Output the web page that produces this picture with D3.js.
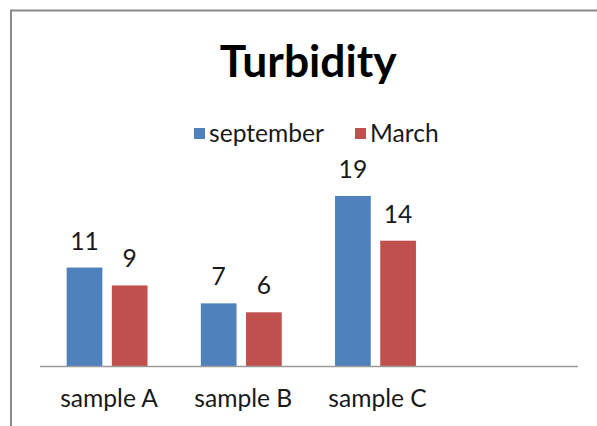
<!DOCTYPE html>
<html>
<head>
<meta charset="utf-8">
<script src="https://cdn.jsdelivr.net/npm/d3@7"></script>
<style>
  html, body { margin: 0; padding: 0; background: #fff; }
  svg { display: block; }
  text { font-family: Lato, "Open Sans", sans-serif; }
</style>
</head>
<body>
<svg id="chart" width="597" height="426"></svg>
<script>
// ---- data ----
const title = "Turbidity";
const categories = ["sample A", "sample B", "sample C"];
const seriesNames = ["september", "March"];
const september = [11, 7, 19];
const march = [9, 6, 14];
const seriesValues = [september, march];
const seriesColors = ["#4F81BD", "#C0504D"];
const yMax = 20;

// ---- layout ----
const W = 597, H = 426;
const plot = { left: 40, right: 578, bottom: 366, top: 187 };
const slot = 134.2;

const svg = d3.select("#chart");
svg.append("rect").attr("width", W).attr("height", H).attr("fill", "#fff");

// outer frame (extends beyond view on right / bottom)
svg.append("rect")
  .attr("x", 11).attr("y", 10.5)
  .attr("width", 800).attr("height", 800)
  .attr("fill", "none").attr("stroke", "#8a8a8a").attr("stroke-width", 2);

const x0 = d3.scaleBand().domain(categories)
  .range([plot.left, plot.left + slot * categories.length])
  .paddingInner(0).paddingOuter(0);
const x1 = d3.scaleBand().domain(seriesNames)
  .range([0, x0.bandwidth()])
  .paddingInner(0.21).paddingOuter(0.59);
const y = d3.scaleLinear().domain([0, yMax]).range([plot.bottom, plot.top]);

// helper: fit font-size so text reaches target width
function fit(sel, target) {
  const w = sel.node().getComputedTextLength();
  const fs = parseFloat(sel.attr("font-size"));
  sel.attr("font-size", fs * target / w);
  return fs * target / w;
}

// title
const t = svg.append("text")
  .attr("x", 308.3).attr("y", 77)
  .attr("text-anchor", "middle")
  .attr("font-weight", 700)
  .attr("font-size", 44)
  .attr("fill", "#000")
  .text(title);
fit(t, 177);

// bars
const data = [];
categories.forEach((c, i) => seriesNames.forEach((s, j) => data.push({ c, s, v: seriesValues[j][i], j })));

svg.append("g").selectAll("rect").data(data).join("rect")
  .attr("x", d => x0(d.c) + x1(d.s))
  .attr("y", d => y(d.v))
  .attr("width", x1.bandwidth())
  .attr("height", d => y(0) - y(d.v))
  .attr("fill", d => seriesColors[d.j]);

// x axis line
svg.append("line")
  .attr("x1", plot.left).attr("x2", plot.right)
  .attr("y1", plot.bottom + 0.5).attr("y2", plot.bottom + 0.5)
  .attr("stroke", "#9a9a9a").attr("stroke-width", 1.3);

// category labels
const catG = svg.append("g").attr("fill", "#1a1a1a");
const probe = catG.append("text").attr("font-size", 25).text(categories[0]);
const labelFs = fit(probe, 98);
probe.remove();
catG.selectAll("text").data(categories).join("text")
  .attr("x", d => x0(d) + x0.bandwidth() / 2 + 2)
  .attr("y", 407)
  .attr("text-anchor", "middle")
  .attr("font-size", labelFs)
  .text(d => d);

// value labels
svg.append("g").attr("fill", "#1a1a1a").selectAll("text").data(data).join("text")
  .attr("x", d => x0(d.c) + x1(d.s) + x1.bandwidth() / 2)
  .attr("y", d => y(d.v) - 18)
  .attr("text-anchor", "middle")
  .attr("font-size", labelFs)
  .text(d => d.v);

// legend
const legendX = [194, 355];
const lg = svg.append("g");
seriesNames.forEach((s, j) => {
  lg.append("rect")
    .attr("x", legendX[j]).attr("y", 128)
    .attr("width", 11).attr("height", 11)
    .attr("fill", seriesColors[j]);
  lg.append("text")
    .attr("x", legendX[j] + 15).attr("y", 141.7)
    .attr("font-size", labelFs)
    .attr("fill", "#1a1a1a")
    .text(s);
});
</script>
</body>
</html>
